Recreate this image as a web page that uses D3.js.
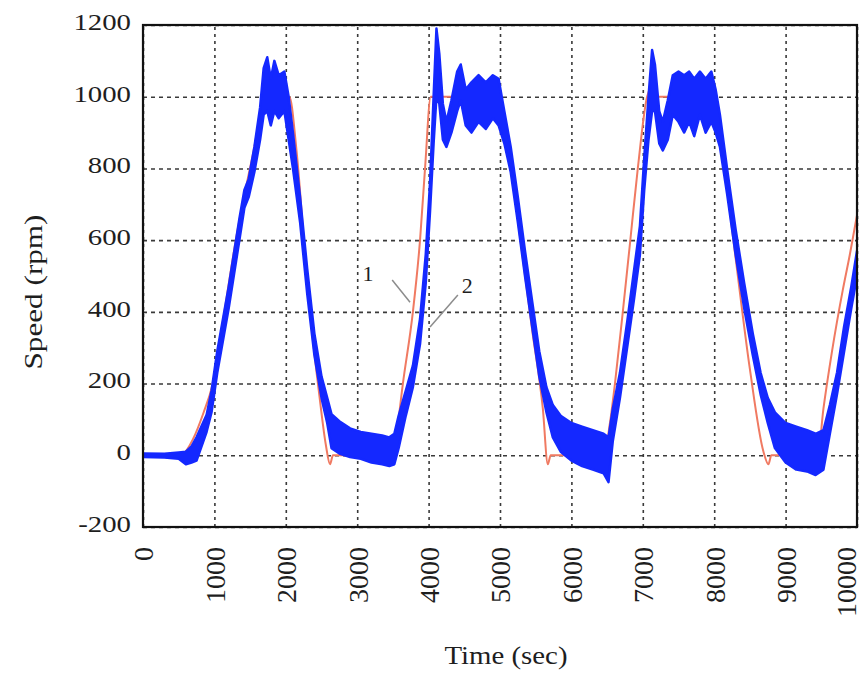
<!DOCTYPE html>
<html>
<head>
<meta charset="utf-8">
<script src="https://cdn.jsdelivr.net/npm/d3@7"></script>
<style>
body{margin:0;background:#fff}
text{font-family:"Liberation Serif","Times New Roman",serif;fill:#1e1e1e}
</style>
</head>
<body>
<div id="chart"></div>
<script>
// tick labels
var xTicks=[0,1000,2000,3000,4000,5000,6000,7000,8000,9000,10000]
var yTicks=[-200,0,200,400,600,800,1000,1200]

// curve 1: reference speed (red)
var refTime=[0,420,560,700,850,970,1100,1300,1540,1700,1760,2050,2150,2300,2480,2560,2620,2660,3450,3550,3640,3780,3880,3950,4030,5000,5100,5300,5450,5600,5670,5710,6450,6540,6610,6720,6820,6930,7060,7140,7200,8000,8100,8300,8500,8690,8760,8800,9450,9530,9650,9800,9900,10000]
var refSpeed=[0,0,5,45,120,195,350,600,840,990,1000,1000,850,480,150,30,-25,0,0,60,200,400,600,800,1000,1000,880,580,350,130,-25,0,0,90,200,400,590,800,1000,1030,1000,1000,870,550,240,10,-25,0,0,130,290,460,560,670]

// curve 2: measured speed (blue), read as a noise band low/high
var measTime=[0,300,500,600,680,750,890,960,1040,1200,1350,1420,1480,1560,1640,1690,1740,1790,1840,1900,1980,2040,2100,2200,2300,2400,2500,2580,2640,2750,2900,3050,3200,3350,3450,3520,3580,3680,3780,3880,3960,4020,4070,4110,4150,4200,4250,4320,4400,4450,4520,4600,4700,4800,4900,4980,5060,5150,5250,5350,5450,5550,5650,5740,5850,6000,6150,6300,6450,6520,6580,6680,6780,6880,6960,7020,7080,7130,7170,7230,7280,7350,7420,7500,7580,7650,7720,7800,7880,7960,8020,8080,8180,8300,8420,8540,8650,8750,8850,9000,9150,9300,9420,9530,9620,9720,9820,9920,10000]
var measLow=[-5,-6,-10,-25,-20,-15,65,120,230,410,600,690,720,790,880,950,960,920,960,940,960,880,800,650,450,280,160,90,20,5,-5,-10,-20,-25,-30,-25,20,110,190,310,480,680,870,1000,980,880,860,900,960,990,920,900,930,910,940,920,870,790,650,500,360,220,120,50,10,-15,-30,-40,-50,-75,40,160,300,440,560,740,880,960,960,870,850,880,950,930,900,930,890,950,900,930,900,860,730,560,410,280,170,90,20,-20,-40,-45,-55,-40,60,170,290,410,500]
var measHigh=[5,4,8,10,25,50,112,180,290,470,660,740,770,860,970,1080,1110,1050,1100,1060,1070,1000,900,720,520,340,220,160,115,95,75,65,60,55,50,60,110,180,250,380,560,760,1000,1190,1120,980,930,990,1070,1090,1020,1040,1060,1040,1060,1050,960,860,720,570,430,290,190,140,110,90,80,70,60,50,130,230,370,520,640,830,1000,1130,1090,960,930,990,1060,1070,1060,1070,1050,1070,1050,1070,1020,950,800,630,480,340,230,160,120,90,80,70,60,70,140,230,360,470,570]

// curve labels 1 and 2 with leader lines (data units)
var curveLabels=["1","2"]
var labelAt=[[3150,508],[4540,475]]
var leaderFrom=[[3490,489],[4410,447]]
var leaderTo=[[3740,427],[4020,358]]

var svgWidth=862
var svgHeight=675
var chartMargin={top:25,right:5,bottom:148,left:143}
var chartWidth=svgWidth-chartMargin.left-chartMargin.right
var chartHeight=svgHeight-chartMargin.top-chartMargin.bottom

var svg=d3.select("#chart")
    .append("svg")
    .attr("width",svgWidth)
    .attr("height",svgHeight)
    .style("background","#fff")
var chartGroup=svg.append("g")
    .attr("transform",`translate(${chartMargin.left},${chartMargin.top})`)

var XScale=d3.scaleLinear().domain([0,10000]).range([0,chartWidth])
var YScale=d3.scaleLinear().domain([-200,1200]).range([chartHeight,0])

svg.append("defs").append("clipPath").attr("id","plotclip")
    .append("rect").attr("width",chartWidth).attr("height",chartHeight)

// grid
chartGroup.append("g")
    .attr("transform",`translate(0,${chartHeight})`)
    .call(d3.axisBottom(XScale).tickValues(xTicks).tickSize(-chartHeight).tickFormat(""))
    .call(g=>g.select(".domain").remove())
    .selectAll("line")
    .attr("stroke","#3a3a3a").attr("stroke-width",1.6).attr("stroke-dasharray","3,4")
chartGroup.append("g")
    .call(d3.axisLeft(YScale).tickValues(yTicks).tickSize(-chartWidth).tickFormat(""))
    .call(g=>g.select(".domain").remove())
    .selectAll("line")
    .attr("stroke","#3a3a3a").attr("stroke-width",1.6).attr("stroke-dasharray","4,4")

var plot=chartGroup.append("g").attr("clip-path","url(#plotclip)")

var refLine=d3.line()
    .x((d,i)=>XScale(refTime[i]))
    .y(d=>YScale(d))
    .curve(d3.curveMonotoneX)
plot.append("path")
    .datum(refSpeed)
    .attr("d",refLine)
    .attr("fill","none")
    .attr("stroke","#f07a62")
    .attr("stroke-width",2)

var measArea=d3.area()
    .x((d,i)=>XScale(measTime[i]))
    .y0((d,i)=>YScale(measLow[i]))
    .y1((d,i)=>YScale(measHigh[i]))
plot.append("path")
    .datum(measTime)
    .attr("d",measArea)
    .attr("fill","#1428ff")
    .attr("stroke","#1428ff")
    .attr("stroke-width",2.5)
    .attr("stroke-linejoin","round")

// frame
chartGroup.append("rect")
    .attr("width",chartWidth)
    .attr("height",chartHeight)
    .attr("fill","none")
    .attr("stroke","#111")
    .attr("stroke-width",2.2)

// tick labels
var yAxis=chartGroup.append("g")
    .call(d3.axisLeft(YScale).tickValues(yTicks).tickSize(0).tickPadding(12).tickFormat(d=>String(d)))
yAxis.select(".domain").remove()
yAxis.selectAll("text")
    .attr("font-size","24px")
    .attr("dy","0.18em")
    .attr("lengthAdjust","spacingAndGlyphs")
    .attr("textLength",function(){return this.getComputedTextLength()*1.2})

var xAxis=chartGroup.append("g")
    .attr("transform",`translate(0,${chartHeight})`)
    .call(d3.axisBottom(XScale).tickValues(xTicks).tickSize(0).tickFormat(d=>String(d)))
xAxis.select(".domain").remove()
xAxis.selectAll("text")
    .attr("font-size","28px")
    .attr("transform","rotate(-90)")
    .attr("text-anchor","end")
    .attr("x",-20)
    .attr("y",(d,i)=>i==xTicks.length-1?-11:0)
    .attr("dy","0.35em")
svg.selectAll(".tick text").style("fill","#1e1e1e").attr("font-family",null)

// axis titles
chartGroup.append("text")
    .attr("transform","rotate(-90)")
    .attr("x",-(chartHeight/2+16))
    .attr("y",42-chartMargin.left)
    .attr("text-anchor","middle")
    .attr("font-size","26px")
    .attr("textLength",155)
    .attr("lengthAdjust","spacingAndGlyphs")
    .text("Speed (rpm)")
chartGroup.append("text")
    .attr("x",chartWidth/2+6)
    .attr("y",chartHeight+137)
    .attr("text-anchor","middle")
    .attr("font-size","26px")
    .attr("textLength",123)
    .attr("lengthAdjust","spacingAndGlyphs")
    .text("Time (sec)")

// curve labels
chartGroup.selectAll(".leader")
    .data(curveLabels)
    .enter()
    .append("line")
    .classed("leader",true)
    .attr("x1",(d,i)=>XScale(leaderFrom[i][0]))
    .attr("y1",(d,i)=>YScale(leaderFrom[i][1]))
    .attr("x2",(d,i)=>XScale(leaderTo[i][0]))
    .attr("y2",(d,i)=>YScale(leaderTo[i][1]))
    .attr("stroke","#8c8c8c")
    .attr("stroke-width",1.5)
chartGroup.selectAll(".clabel")
    .data(curveLabels)
    .enter()
    .append("text")
    .classed("clabel",true)
    .attr("x",(d,i)=>XScale(labelAt[i][0]))
    .attr("y",(d,i)=>YScale(labelAt[i][1]))
    .attr("dy","0.35em")
    .attr("text-anchor","middle")
    .attr("font-size","22px")
    .text(d=>d)
</script>
</body>
</html>
